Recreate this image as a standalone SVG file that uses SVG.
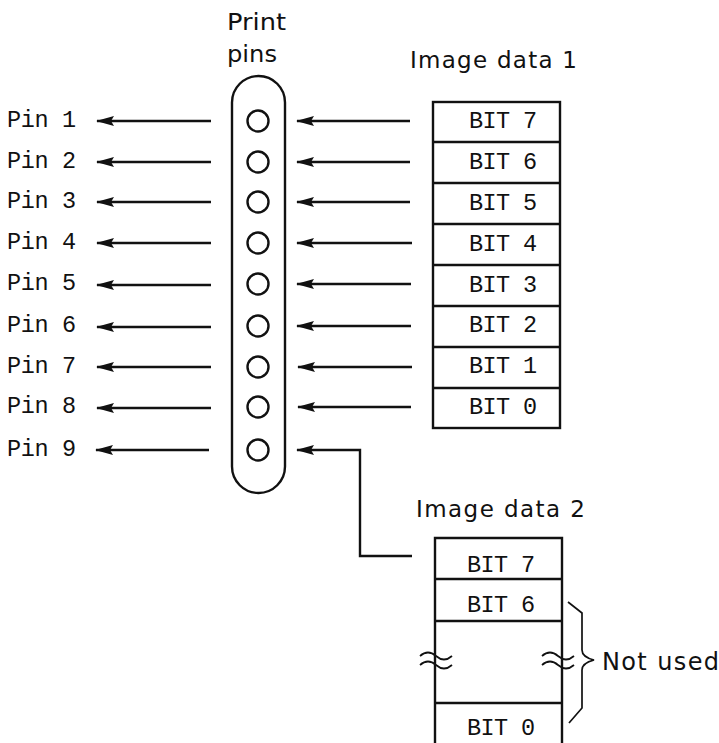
<svg xmlns="http://www.w3.org/2000/svg" width="719" height="743" viewBox="0 0 719 743">
<style>
.mono{font-family:"Liberation Mono","DejaVu Sans Mono",monospace;font-size:23.5px;fill:#111}
.sans{font-family:"DejaVu Sans","Liberation Sans",sans-serif;font-size:23px;fill:#111}
.ln{stroke:#111;stroke-width:2.4;fill:none}
.thin{stroke:#111;stroke-width:1.7;fill:none}
.box{stroke:#111;stroke-width:2.4;fill:#fff}
</style>
<defs>
<marker id="ah" markerUnits="userSpaceOnUse" viewBox="0 0 18 11" refX="17" refY="5.5" markerWidth="18" markerHeight="11" orient="auto">
<path d="M0,0.5 L18,5.5 L0,10.5 L3,5.5 z" fill="#111"/>
</marker>
</defs>
<g id="labels-pins">
<text class="mono" x="7" y="127" textLength="69" lengthAdjust="spacing">Pin 1</text>
<text class="mono" x="7" y="168" textLength="69" lengthAdjust="spacing">Pin 2</text>
<text class="mono" x="7" y="208" textLength="69" lengthAdjust="spacing">Pin 3</text>
<text class="mono" x="7" y="249" textLength="69" lengthAdjust="spacing">Pin 4</text>
<text class="mono" x="7" y="290" textLength="69" lengthAdjust="spacing">Pin 5</text>
<text class="mono" x="7" y="332" textLength="69" lengthAdjust="spacing">Pin 6</text>
<text class="mono" x="7" y="373" textLength="69" lengthAdjust="spacing">Pin 7</text>
<text class="mono" x="7" y="413" textLength="69" lengthAdjust="spacing">Pin 8</text>
<text class="mono" x="7" y="456" textLength="69" lengthAdjust="spacing">Pin 9</text>
</g>
<g id="print-pins">
<text class="sans" x="227" y="30" textLength="59" lengthAdjust="spacingAndGlyphs">Print</text>
<text class="sans" x="227" y="62" textLength="50" lengthAdjust="spacingAndGlyphs">pins</text>
<rect x="232" y="76" width="53" height="417" rx="26.5" class="ln"/>
<circle cx="258" cy="121" r="10.5" class="ln"/>
<circle cx="258" cy="162" r="10.5" class="ln"/>
<circle cx="258" cy="202" r="10.5" class="ln"/>
<circle cx="258" cy="243" r="10.5" class="ln"/>
<circle cx="258" cy="284" r="10.5" class="ln"/>
<circle cx="258" cy="326" r="10.5" class="ln"/>
<circle cx="258" cy="367" r="10.5" class="ln"/>
<circle cx="258" cy="407" r="10.5" class="ln"/>
<circle cx="258" cy="450" r="10.5" class="ln"/>
</g>
<g id="image-data-1">
<text class="sans" x="410" y="68" textLength="167" lengthAdjust="spacing">Image data 1</text>
<rect x="433" y="102" width="127" height="326" class="box"/>
<path class="ln" d="M433,142H560M433,183H560M433,224H560M433,265H560M433,306H560M433,347H560M433,388H560"/>
<text class="mono" x="469" y="128" textLength="68" lengthAdjust="spacing">BIT 7</text>
<text class="mono" x="469" y="169" textLength="68" lengthAdjust="spacing">BIT 6</text>
<text class="mono" x="469" y="210" textLength="68" lengthAdjust="spacing">BIT 5</text>
<text class="mono" x="469" y="251" textLength="68" lengthAdjust="spacing">BIT 4</text>
<text class="mono" x="469" y="292" textLength="68" lengthAdjust="spacing">BIT 3</text>
<text class="mono" x="469" y="332" textLength="68" lengthAdjust="spacing">BIT 2</text>
<text class="mono" x="469" y="373" textLength="68" lengthAdjust="spacing">BIT 1</text>
<text class="mono" x="469" y="414" textLength="68" lengthAdjust="spacing">BIT 0</text>
</g>
<g id="image-data-2">
<text class="sans" x="416" y="517" textLength="169" lengthAdjust="spacing">Image data 2</text>
<path class="ln" d="M435,746V538H562V746M435,579H562M435,621H562M435,703H562"/>
<text class="mono" x="467" y="572" textLength="68" lengthAdjust="spacing">BIT 7</text>
<text class="mono" x="467" y="612" textLength="68" lengthAdjust="spacing">BIT 6</text>
<text class="mono" x="467" y="735" textLength="68" lengthAdjust="spacing">BIT 0</text>
<path class="thin" d="M420,656q8,-7 16,0q8,7 16,0M420,665q8,-7 16,0q8,7 16,0"/>
<path class="thin" d="M542,656q8,-7 16,0q8,7 16,0M542,665q8,-7 16,0q8,7 16,0"/>
<path class="thin" d="M568,602L582,613L582,650Q582,657 594,660Q582,663 582,670L582,708L569,723"/>
<text class="sans" x="602" y="670" textLength="117" lengthAdjust="spacing" style="font-size:24px">Not used</text>
</g>
<g id="connectors" class="ln" marker-end="url(#ah)">
<line x1="211" y1="121" x2="97" y2="121"/>
<line x1="211" y1="162" x2="97" y2="162"/>
<line x1="211" y1="202" x2="97" y2="202"/>
<line x1="211" y1="243" x2="97" y2="243"/>
<line x1="211" y1="285" x2="97" y2="285"/>
<line x1="211" y1="327" x2="97" y2="327"/>
<line x1="211" y1="367" x2="97" y2="367"/>
<line x1="211" y1="408" x2="97" y2="408"/>
<line x1="209" y1="450" x2="96" y2="450"/>
<line x1="410" y1="121" x2="297" y2="121"/>
<line x1="410" y1="162" x2="297" y2="162"/>
<line x1="410" y1="202" x2="297" y2="202"/>
<line x1="412" y1="243" x2="297" y2="243"/>
<line x1="411" y1="284" x2="297" y2="284"/>
<line x1="411" y1="326" x2="297" y2="326"/>
<line x1="412" y1="367" x2="298" y2="367"/>
<line x1="411" y1="407" x2="298" y2="407"/>
<polyline points="412,556 360,556 360,450 297,450"/>
</g>
</svg>
